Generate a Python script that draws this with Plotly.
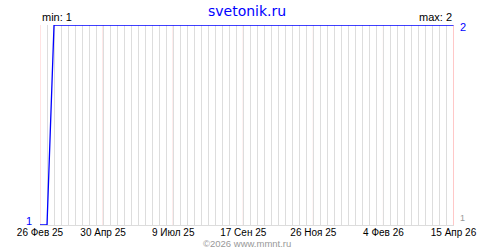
import plotly.graph_objects as go

dates = ["2025-02-26", "2025-03-05", "2025-03-12", "2026-04-15"]
values = [1, 1, 2, 2]
tick_dates = ["2025-02-26", "2025-04-30", "2025-07-09", "2025-09-17",
              "2025-11-26", "2026-02-04", "2026-04-15"]
tick_labels = ["26 Фев 25", "30 Апр 25", "9 Июл 25", "17 Сен 25",
               "26 Ноя 25", "4 Фев 26", "15 Апр 26"]
title = "svetonik.ru"
footer = "©2026 www.mmnt.ru"
vmin, vmax = min(values), max(values)

fig = go.Figure()
fig.add_trace(go.Scatter(x=dates, y=values, mode="lines",
                         line=dict(color="#0000ff", width=1.3),
                         hoverinfo="skip", cliponaxis=False))

font = "Liberation Sans, Arial, sans-serif"
shapes = [dict(type="line", xref="x", yref="paper", x0=d, x1=d, y0=0, y1=1,
               line=dict(color="#ffc8c8", width=1), layer="below")
          for d in tick_dates]

fig.update_layout(
    width=500, height=250,
    margin=dict(l=40, r=46, t=25, b=25),
    paper_bgcolor="white", plot_bgcolor="white",
    showlegend=False,
    shapes=shapes,
    xaxis=dict(
        range=["2025-02-26", "2026-04-15 12:00"],
        tickvals=tick_dates, ticktext=tick_labels,
        showgrid=False,
        ticks="", ticklen=0,
        ticklabelstandoff=-2,
        tickfont=dict(family=font, size=10, color="black"),
        showline=True, linecolor="#dcdcdc", linewidth=1,
        zeroline=False,
        minor=dict(tick0="2025-02-26", dtick=7 * 86400000, showgrid=True,
                   gridcolor="#dddddd", gridwidth=1, ticks=""),
        layer="below traces",
    ),
    yaxis=dict(range=[vmin, vmax], showgrid=False, zeroline=False,
               showticklabels=False, ticks="", showline=False),
    annotations=[
        dict(text=title, x=0.5, y=1.07, xref="paper", yref="paper",
             xanchor="center", yanchor="middle", showarrow=False,
             font=dict(family="DejaVu Sans, Verdana, sans-serif", size=14, color="#0000ff")),
        dict(text=f"min: {vmin}", x=0, y=1, xref="paper", yref="paper",
             xanchor="left", yanchor="bottom", showarrow=False,
             font=dict(family=font, size=11, color="black")),
        dict(text=f"max: {vmax}", x=1, y=1, xref="paper", yref="paper",
             xanchor="right", yanchor="bottom", showarrow=False,
             font=dict(family=font, size=11, color="black")),
        dict(text=str(vmax), x=1, y=vmax, xref="paper", yref="y",
             xanchor="left", yanchor="middle", xshift=4, yshift=-2, showarrow=False,
             font=dict(family=font, size=11, color="#0000ff")),
        dict(text=str(vmin), x=0, y=vmin, xref="paper", yref="y",
             xanchor="right", yanchor="bottom", xshift=-6, yshift=-4, showarrow=False,
             font=dict(family=font, size=11, color="#0000ff")),
        dict(text=str(vmin), x=1, y=vmin, xref="paper", yref="y",
             xanchor="left", yanchor="bottom", xshift=4, showarrow=False,
             font=dict(family=font, size=9, color="#999999")),
        dict(text=footer, x=0.5, y=-0.125, xref="paper", yref="paper",
             xanchor="center", yanchor="bottom", borderpad=0, showarrow=False,
             font=dict(family=font, size=9.5, color="#999999")),
    ],
)

fig.write_html("out.html")
